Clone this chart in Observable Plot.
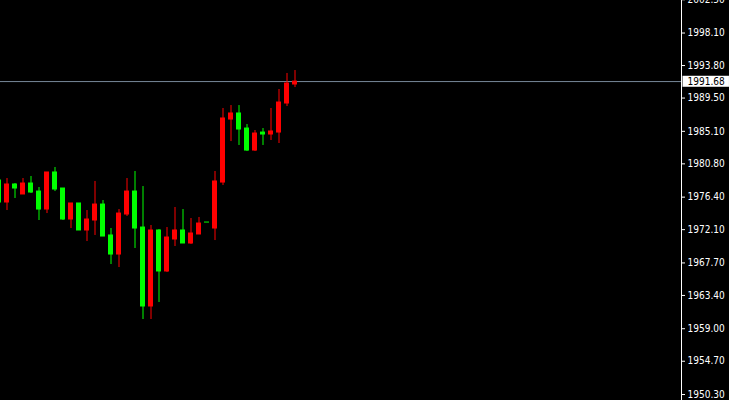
<!DOCTYPE html>
<html>
<head>
<meta charset="utf-8">
<script src="https://cdn.jsdelivr.net/npm/d3@7"></script>
<script src="https://cdn.jsdelivr.net/npm/@observablehq/plot@0.6"></script>
<style>
  html, body { margin: 0; padding: 0; background: #000; }
  #chart { width: 729px; height: 400px; overflow: hidden; }
</style>
</head>
<body>
<div id="chart"></div>
<script>
// Bar index (first bar is cut off by the left edge)
const barIndex = d3.range(-1, 37);
const openPrices = [1978.60, 1975.69, 1978.07, 1976.75, 1978.20, 1977.14, 1974.76, 1979.66, 1977.54, 1973.44,
  1975.56, 1971.99, 1973.31, 1975.42, 1971.33, 1968.81, 1974.10, 1977.14, 1972.38, 1961.94,
  1971.99, 1966.57, 1970.80, 1971.99, 1970.27, 1971.46, 1973.04, 1972.25, 1978.33, 1986.66,
  1987.46, 1985.47, 1982.56, 1984.94, 1984.68, 1984.94, 1988.78, 1991.29];
const highPrices = [1978.86, 1978.86, 1978.20, 1978.86, 1979.13, 1977.67, 1979.66, 1980.32, 1977.54, 1975.56,
  1975.56, 1974.63, 1978.47, 1975.95, 1972.25, 1974.76, 1978.86, 1979.79, 1977.80, 1972.65,
  1972.12, 1972.38, 1975.03, 1974.76, 1973.57, 1973.71, 1973.04, 1979.79, 1988.12, 1988.51,
  1988.51, 1986.00, 1985.21, 1985.47, 1988.12, 1990.63, 1992.75, 1993.14];
const lowPrices = [1975.29, 1974.63, 1976.22, 1976.75, 1976.88, 1973.31, 1974.23, 1977.14, 1973.31, 1972.25,
  1971.99, 1970.53, 1971.33, 1971.19, 1967.49, 1967.09, 1973.84, 1969.61, 1960.22, 1960.22,
  1962.47, 1966.43, 1969.87, 1970.27, 1970.14, 1971.46, 1973.04, 1970.66, 1977.94, 1983.75,
  1983.23, 1982.43, 1982.43, 1983.23, 1983.89, 1983.49, 1988.38, 1990.89];
const closePrices = [1975.69, 1978.07, 1977.54, 1978.20, 1977.01, 1974.76, 1979.66, 1977.41, 1973.44, 1975.56,
  1971.99, 1973.44, 1975.42, 1971.19, 1968.81, 1974.23, 1977.14, 1972.25, 1961.94, 1971.99,
  1966.57, 1971.06, 1971.99, 1970.27, 1971.59, 1972.91, 1973.04, 1978.47, 1986.80, 1987.46,
  1985.34, 1982.56, 1984.81, 1984.68, 1985.08, 1988.91, 1991.42, 1991.68];
const priceTicks = [2002.50, 1998.10, 1993.80, 1989.50, 1985.10, 1980.80, 1976.40, 1972.10,
  1967.70, 1963.40, 1959.00, 1954.70, 1950.30];
const bidPrice = 1991.68;

const upColor = "#ff0000";
const downColor = "#00ff00";

const bars = barIndex.map((i, k) => ({
  i, open: openPrices[k], high: highPrices[k], low: lowPrices[k], close: closePrices[k]
}));
const colorOf = d => d.close > d.open ? upColor : downColor;

const xDomain = [-0.8125, 84.3125];
const yDomain = [1949.51, 2002.40];
const halfBody = 0.3125;
const fmt = d3.format(".2f");

const plot = Plot.plot({
  width: 729,
  height: 400,
  marginLeft: 0,
  marginRight: 48,
  marginTop: 0,
  marginBottom: 0,
  style: { background: "#000", color: "#fff", overflow: "hidden" },
  x: { domain: xDomain, axis: null },
  y: { domain: yDomain, axis: null },
  marks: [
    Plot.ruleY([bidPrice], { stroke: "#778899", strokeWidth: 1 }),
    Plot.ruleX(bars, { x: "i", y1: "low", y2: "high", stroke: colorOf, strokeWidth: 1, clip: true }),
    Plot.rect(bars, {
      x1: d => d.i - halfBody, x2: d => d.i + halfBody,
      y1: "open", y2: "close", fill: colorOf,
      insetTop: -0.5, insetBottom: -0.5, clip: true
    }),
    Plot.ruleX([xDomain[1]], { stroke: "#fff", strokeWidth: 1 }),
    Plot.axisY(priceTicks, {
      anchor: "right", tickSize: 3, tickPadding: 3, tickFormat: fmt,
      fontSize: 10, stroke: "#fff", fill: "#fff"
    }),
    Plot.text([bidPrice], {
      y: d => d, frameAnchor: "right", textAnchor: "start", dx: 6,
      text: d => fmt(d), fill: "#000", fontSize: 10, className: "bid-label"
    })
  ]
});
plot.style.fontFamily = "'DejaVu Sans Condensed', 'DejaVu Sans', sans-serif";
document.getElementById("chart").appendChild(plot);

// white box behind the bid price label
const bidG = plot.querySelector("g.bid-label") || plot.querySelector(".bid-label");
if (bidG) {
  const t = bidG.querySelector("text");
  if (t) {
    const bb = t.getBBox();
    const ctm = t.getAttribute("transform");
    const r = document.createElementNS("http://www.w3.org/2000/svg", "rect");
    r.setAttribute("x", bb.x - 5);
    r.setAttribute("y", bb.y + bb.height / 2 - 5.5);
    r.setAttribute("width", bb.width + 9);
    r.setAttribute("height", 11);
    r.setAttribute("fill", "#fff");
    if (ctm) r.setAttribute("transform", ctm);
    t.parentNode.insertBefore(r, t);
  }
}
</script>
</body>
</html>
